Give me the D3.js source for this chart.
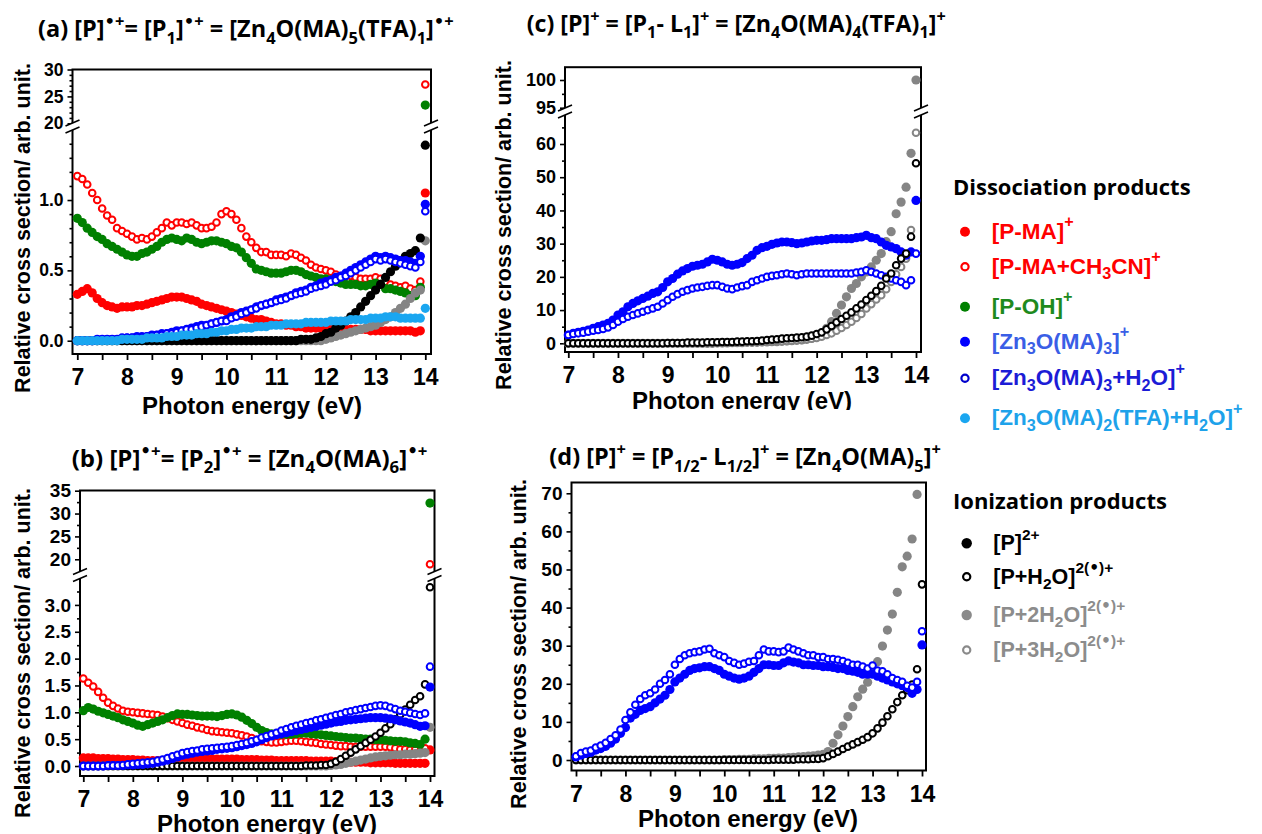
<!DOCTYPE html>
<html><head><meta charset="utf-8">
<script src="https://cdn.jsdelivr.net/npm/d3@7"></script>
<style>body{margin:0;background:#fff} text{white-space:pre}</style>
</head><body><svg id="c" width="1262" height="834" xmlns="http://www.w3.org/2000/svg"></svg>
<script>
// ---------------- data ----------------
const energy = [7.0,7.1,7.2,7.3,7.4,7.5,7.6,7.7,7.8,7.9,8.0,8.1,8.2,8.3,8.4,8.5,8.6,8.7,8.8,8.9,9.0,9.1,9.2,9.3,9.4,9.5,9.6,9.7,9.8,9.9,10.0,10.1,10.2,10.3,10.4,10.5,10.6,10.7,10.8,10.9,11.0,11.1,11.2,11.3,11.4,11.5,11.6,11.7,11.8,11.9,12.0,12.1,12.2,12.3,12.4,12.5,12.6,12.7,12.8,12.9,13.0,13.1,13.2,13.3,13.4,13.5,13.6,13.7,13.8,13.9,14.0];
const xTickLabels = [7,8,9,10,11,12,13,14];
const xMinorTicks = [7.5,8.5,9.5,10.5,11.5,12.5,13.5];

// panel (a)
const a_PMA = [0.33,0.35,0.37,0.34,0.30,0.27,0.25,0.24,0.23,0.24,
 0.24,0.24,0.25,0.25,0.26,0.27,0.28,0.29,0.30,0.31,
 0.31,0.31,0.30,0.29,0.28,0.26,0.25,0.24,0.23,0.22,
 0.21,0.20,0.19,0.18,0.17,0.16,0.15,0.15,0.14,0.13,
 0.12,0.12,0.11,0.11,0.10,0.10,0.09,0.09,0.09,0.09,
 0.09,0.08,0.08,0.08,0.08,0.08,0.08,0.08,0.08,0.07,
 0.07,0.07,0.07,0.07,0.07,0.07,0.07,0.07,0.06,0.07,
 1.05];
const a_PMACN = [1.17,1.15,1.11,1.05,1.00,0.94,0.89,0.86,0.80,0.78,
 0.76,0.74,0.72,0.73,0.72,0.74,0.77,0.80,0.84,0.82,
 0.84,0.84,0.83,0.84,0.82,0.80,0.80,0.81,0.84,0.90,
 0.92,0.90,0.86,0.80,0.74,0.70,0.66,0.63,0.63,0.61,
 0.61,0.61,0.60,0.62,0.61,0.59,0.57,0.54,0.52,0.51,
 0.50,0.49,0.47,0.46,0.46,0.46,0.45,0.44,0.44,0.44,
 0.45,0.44,0.42,0.40,0.39,0.38,0.39,0.37,0.36,0.42,
 27.2];
const a_POH = [0.87,0.84,0.80,0.77,0.74,0.72,0.69,0.67,0.65,0.63,
 0.61,0.60,0.60,0.62,0.63,0.65,0.67,0.70,0.72,0.73,
 0.72,0.71,0.73,0.72,0.70,0.69,0.70,0.71,0.71,0.70,
 0.69,0.67,0.66,0.63,0.59,0.55,0.51,0.50,0.49,0.48,
 0.48,0.48,0.49,0.50,0.50,0.49,0.47,0.46,0.45,0.44,
 0.44,0.43,0.42,0.41,0.40,0.40,0.40,0.39,0.39,0.40,
 0.41,0.40,0.37,0.37,0.36,0.35,0.34,0.32,0.32,0.38,
 23.4];
const a_ZnMA3 = [0.00,0.00,0.00,0.00,0.01,0.01,0.01,0.01,0.01,0.02,
 0.02,0.02,0.03,0.03,0.03,0.04,0.04,0.05,0.05,0.06,
 0.07,0.07,0.08,0.09,0.10,0.11,0.11,0.12,0.13,0.14,
 0.15,0.17,0.18,0.20,0.21,0.22,0.24,0.25,0.26,0.27,
 0.29,0.30,0.31,0.32,0.34,0.35,0.36,0.38,0.39,0.41,
 0.42,0.43,0.45,0.46,0.48,0.50,0.52,0.54,0.56,0.58,
 0.60,0.59,0.60,0.59,0.58,0.57,0.57,0.56,0.55,0.60,
 0.97];
const a_ZnMA3H2O = [0.00,0.00,0.00,0.00,0.00,0.00,0.01,0.01,0.01,0.01,
 0.02,0.02,0.02,0.02,0.03,0.03,0.04,0.04,0.05,0.05,
 0.06,0.07,0.08,0.08,0.09,0.10,0.11,0.12,0.13,0.14,
 0.14,0.16,0.17,0.19,0.20,0.22,0.23,0.25,0.26,0.27,
 0.28,0.29,0.30,0.32,0.33,0.34,0.35,0.37,0.38,0.39,
 0.40,0.42,0.43,0.45,0.46,0.48,0.50,0.52,0.54,0.56,
 0.58,0.57,0.58,0.57,0.56,0.55,0.54,0.53,0.52,0.56,
 0.92];
const a_ZnTFA = [0.00,0.00,0.00,0.00,0.00,0.00,0.00,0.00,0.00,0.01,
 0.01,0.01,0.01,0.01,0.02,0.02,0.02,0.02,0.03,0.03,
 0.03,0.04,0.04,0.04,0.05,0.05,0.05,0.06,0.06,0.07,
 0.07,0.08,0.08,0.09,0.09,0.09,0.10,0.10,0.10,0.11,
 0.11,0.11,0.12,0.12,0.12,0.12,0.13,0.13,0.13,0.13,
 0.13,0.14,0.14,0.14,0.14,0.15,0.15,0.15,0.15,0.16,
 0.16,0.16,0.17,0.17,0.17,0.16,0.16,0.16,0.16,0.16,
 0.23];
const a_P2 = [0,0,0,0,0,0,0,0,0,0,
 0,0,0,0,0,0,0,0,0,0,
 0,0,0,0,0,0,0,0,0,0,
 0,0,0,0,0,0,0,0,0,0,
 0,0,0,0,0,0.01,0.01,0.01,0.02,0.03,
 0.05,0.06,0.09,0.11,0.14,0.17,0.20,0.24,0.28,0.32,
 0.36,0.40,0.45,0.49,0.53,0.57,0.60,0.62,0.64,0.73,
 1.39];
const a_P2H2O2 = [0,0,0,0,0,0,0,0,0,0,
 0,0,0,0,0,0,0,0,0,0,
 0,0,0,0,0,0,0,0,0,0,
 0,0,0,0,0,0,0,0,0,0,
 0,0,0,0,0,0,0,0,0,0,
 0.01,0.02,0.03,0.04,0.05,0.06,0.07,0.08,0.09,0.10,
 0.11,0.13,0.15,0.17,0.20,0.23,0.26,0.30,0.34,0.36,
 0.71];

// panel (b)
const b_PMA = [0.15,0.15,0.15,0.14,0.14,0.14,0.13,0.13,0.12,0.12,
 0.12,0.11,0.11,0.10,0.10,0.10,0.10,0.10,0.11,0.11,
 0.11,0.12,0.12,0.13,0.13,0.13,0.13,0.13,0.13,0.13,
 0.13,0.13,0.12,0.12,0.12,0.12,0.11,0.11,0.11,0.10,
 0.10,0.10,0.10,0.10,0.10,0.10,0.09,0.09,0.09,0.09,
 0.09,0.08,0.08,0.08,0.07,0.07,0.07,0.07,0.06,0.06,
 0.06,0.06,0.06,0.05,0.05,0.05,0.05,0.05,0.05,0.05,
 0.30];
const b_PMACN = [1.63,1.55,1.48,1.38,1.27,1.18,1.12,1.07,1.03,1.01,
 1.00,0.99,0.98,0.97,0.96,0.95,0.92,0.89,0.86,0.83,
 0.80,0.77,0.75,0.72,0.70,0.67,0.65,0.64,0.63,0.62,
 0.61,0.59,0.57,0.55,0.52,0.49,0.46,0.45,0.44,0.44,
 0.45,0.46,0.47,0.47,0.46,0.45,0.44,0.43,0.41,0.40,
 0.39,0.38,0.37,0.37,0.36,0.36,0.36,0.36,0.36,0.36,
 0.36,0.36,0.35,0.33,0.31,0.31,0.30,0.30,0.27,0.33,
 18.9];
const b_POH = [1.03,1.09,1.06,1.02,0.99,0.96,0.93,0.90,0.86,0.83,
 0.80,0.76,0.74,0.77,0.80,0.83,0.86,0.90,0.94,0.97,
 0.96,0.96,0.95,0.94,0.93,0.93,0.93,0.92,0.94,0.96,
 0.97,0.95,0.91,0.85,0.79,0.72,0.66,0.62,0.60,0.59,
 0.59,0.59,0.59,0.60,0.61,0.61,0.60,0.59,0.58,0.57,
 0.56,0.55,0.54,0.53,0.52,0.52,0.51,0.50,0.50,0.49,
 0.49,0.48,0.47,0.46,0.46,0.45,0.43,0.42,0.40,0.50,
 32.3];
const b_ZnMA3 = [0.00,0.00,0.00,0.00,0.00,0.01,0.01,0.01,0.01,0.02,
 0.02,0.03,0.03,0.04,0.05,0.07,0.09,0.11,0.14,0.17,
 0.20,0.22,0.24,0.26,0.27,0.28,0.29,0.31,0.32,0.33,
 0.34,0.36,0.38,0.40,0.42,0.45,0.49,0.53,0.56,0.58,
 0.60,0.62,0.64,0.66,0.68,0.70,0.72,0.74,0.76,0.78,
 0.80,0.82,0.83,0.85,0.86,0.87,0.88,0.89,0.90,0.90,
 0.90,0.89,0.88,0.86,0.84,0.82,0.80,0.77,0.74,0.75,
 1.47];
const b_ZnMA3H2O = [0.00,0.00,0.00,0.00,0.00,0.01,0.01,0.01,0.02,0.03,
 0.04,0.05,0.06,0.07,0.08,0.10,0.12,0.15,0.18,0.21,
 0.24,0.26,0.28,0.29,0.31,0.32,0.33,0.34,0.35,0.36,
 0.37,0.39,0.41,0.43,0.46,0.49,0.53,0.56,0.59,0.62,
 0.66,0.69,0.72,0.75,0.77,0.80,0.82,0.85,0.87,0.90,
 0.92,0.95,0.97,1.00,1.02,1.04,1.06,1.08,1.10,1.12,
 1.13,1.12,1.09,1.06,1.03,1.01,0.99,0.97,0.95,0.98,
 1.85];
const b_P2H2O = [0,0,0,0,0,0,0,0,0,0,
 0,0,0,0,0,0,0,0,0,0,
 0,0,0,0,0,0,0,0,0,0,
 0,0,0,0,0,0,0,0,0,0,
 0,0,0,0,0,0.01,0.01,0.01,0.02,0.02,
 0.04,0.08,0.13,0.19,0.25,0.31,0.37,0.43,0.49,0.55,
 0.62,0.70,0.78,0.87,0.96,1.05,1.14,1.23,1.30,1.52,
 3.33];
const b_P2H2O2 = [0,0,0,0,0,0,0,0,0,0,
 0,0,0,0,0,0,0,0,0,0,
 0,0,0,0,0,0,0,0,0,0,
 0,0,0,0,0,0,0,0,0,0,
 0,0,0,0,0,0,0,0,0,0,
 0.01,0.02,0.03,0.05,0.07,0.09,0.11,0.13,0.15,0.17,
 0.18,0.19,0.20,0.21,0.21,0.22,0.22,0.23,0.24,0.25,
 0.72];

// panel (c)
const c_ZnMA3 = [2.5,3.0,3.3,3.6,4.0,4.5,5.0,5.5,6.0,7.0,
 8.5,9.5,11.0,12.0,12.8,13.5,14.2,15.0,15.5,16.8,
 18.5,19.5,20.8,21.8,22.5,23.2,23.5,23.8,24.5,25.3,
 25.0,24.5,23.8,23.5,23.8,24.3,25.5,26.5,28.0,28.8,
 29.2,29.8,30.2,30.5,30.5,30.3,30.0,30.2,30.5,30.8,
 31.0,31.0,31.2,31.5,31.5,31.5,31.5,31.5,31.8,32.0,
 32.5,31.8,31.5,30.5,29.5,29.0,28.5,27.5,26.5,27.5,
 43.0];
const c_ZnMA3H2O = [2.5,2.8,3.0,3.2,3.5,3.8,4.0,4.3,4.8,5.5,
 6.5,7.3,8.0,8.5,9.0,9.5,10.0,10.5,11.0,12.0,
 13.0,14.0,14.8,15.5,16.0,16.5,16.8,17.0,17.3,17.5,
 17.5,17.0,16.5,16.3,16.8,17.2,17.5,18.5,19.0,19.5,
 20.0,20.3,20.5,20.8,21.0,20.8,20.5,20.8,21.0,21.0,
 21.0,21.0,21.0,21.0,21.0,21.0,21.0,21.0,21.3,21.5,
 22.0,21.5,21.0,20.5,20.0,19.5,19.0,18.5,17.5,19.0,
 27.0];
const c_P2H2O = [0,0,0,0,0,0,0,0,0,0,
 0,0,0,0,0,0,0,0,0,0,
 0.1,0.1,0.1,0.1,0.2,0.2,0.2,0.2,0.3,0.3,
 0.3,0.4,0.4,0.4,0.5,0.5,0.6,0.6,0.7,0.8,
 1.0,1.1,1.2,1.4,1.5,1.6,1.7,1.8,2.0,2.3,
 2.8,3.3,4.2,5.2,6.3,7.3,8.3,9.3,10.5,11.7,
 13.0,14.3,15.7,17.3,19.5,21.0,23.5,25.5,27.0,32.1,
 54.2];
const c_P2H2O2 = [0,0,0,0,0,0,0,0,0,0,
 0,0,0,0,0,0,0,0,0,0,
 0,0,0,0,0,0,0,0,0,0,
 0.1,0.1,0.1,0.2,0.2,0.2,0.3,0.3,0.3,0.4,
 0.4,0.5,0.5,0.6,0.7,0.8,0.9,1.0,1.2,1.5,
 2.0,3.0,4.5,6.5,9.0,11.5,14.0,16.5,18.0,20.0,
 21.5,23.0,25.0,27.0,30.6,33.6,39.0,42.5,47.0,57.2,
 100];
const c_P2H2O3 = [0,0,0,0,0,0,0,0,0,0,
 0,0,0,0,0,0,0,0,0,0,
 0,0,0,0,0,0,0,0,0,0,
 0.1,0.1,0.2,0.2,0.2,0.3,0.3,0.3,0.4,0.4,
 0.5,0.5,0.6,0.6,0.7,0.8,0.9,1.0,1.2,1.4,
 1.6,2.0,2.5,3.0,3.8,4.6,5.5,6.5,7.6,8.8,
 10.5,11.8,13.2,14.5,16.3,18.5,20.8,23.0,25.5,34.1,
 63.4];

// panel (d)
const d_ZnMA3 = [0.8,1.3,1.7,2.0,2.6,3.0,3.6,4.4,5.5,7.0,
 8.5,11.0,12.0,13.0,13.5,14.0,15.0,16.0,17.0,18.5,
 20.5,21.5,22.5,23.5,24.0,24.2,24.5,24.5,24.0,23.5,
 22.5,22.0,21.5,21.2,21.5,22.0,23.0,24.0,25.0,25.0,
 24.8,24.8,25.5,26.0,25.7,25.5,25.0,25.0,24.8,24.8,
 24.5,24.5,24.3,24.0,24.0,23.5,23.3,23.0,22.5,22.5,
 22.5,22.0,21.5,21.0,20.5,20.0,19.5,19.0,17.5,18.5,
 30.2];
const d_ZnMA3H2O = [1.0,1.8,2.2,2.5,3.3,3.8,4.5,5.5,6.5,8.0,
 10.5,12.5,14.5,16.0,17.0,17.5,18.5,20.0,21.0,22.5,
 25.0,26.5,27.5,28.0,28.3,28.5,29.0,29.2,28.0,27.5,
 27.0,26.0,25.5,25.0,25.3,25.8,26.0,27.5,29.0,28.5,
 28.5,28.3,28.5,29.5,29.0,28.5,28.0,27.5,27.5,27.0,
 27.0,26.5,26.5,26.3,26.0,25.5,25.0,25.0,24.5,24.0,
 24.8,23.5,23.3,22.5,21.5,21.0,20.5,19.5,19.0,20.5,
 33.8];
const d_P2H2O = [0,0,0,0,0,0,0,0,0,0,
 0,0,0,0,0,0,0,0,0,0,
 0,0,0,0,0,0,0,0,0,0,
 0,0,0,0,0,0,0,0,0,0,
 0.1,0.1,0.1,0.1,0.1,0.2,0.2,0.2,0.3,0.3,
 0.5,1.0,1.6,2.2,2.9,3.5,4.1,4.7,5.3,6.0,
 7.0,8.3,9.8,11.5,13.3,15.2,17.0,18.3,19.8,23.8,
 46.1];
const d_P2H2O2 = [0,0,0,0,0,0,0,0,0,0,
 0,0,0,0,0,0,0,0,0,0,
 0,0,0,0,0,0,0,0,0,0,
 0.1,0.1,0.1,0.2,0.2,0.2,0.3,0.3,0.3,0.4,
 0.4,0.5,0.5,0.6,0.7,0.8,0.9,1.0,1.1,1.3,
 1.5,2.2,4.4,6.6,8.9,11.4,14.0,16.6,18.6,20.4,
 22.7,25.8,29.9,34.1,38.3,44.0,50.7,53.5,58.0,69.7,
 null];

// y tick labels
const aLowTicks = [0, 0.5, 1.0];
const aLowMinor = [0.1,0.2,0.3,0.4,0.6,0.7,0.8,0.9,1.1,1.2,1.3,1.4,1.5];
const aUpTicks = [20, 25, 30];
const aUpMinor = [21,22,23,24,26,27,28,29];
const bLowTicks = [0,0.5,1.0,1.5,2.0,2.5,3.0];
const bLowMinor = [0.25,0.75,1.25,1.75,2.25,2.75,3.25];
const bUpTicks = [20,25,30,35];
const bUpMinor = [22.5,27.5,32.5];
const cLowTicks = [0,10,20,30,40,50,60];
const cLowMinor = [5,15,25,35,45,55,65];
const cUpTicks = [95,100];
const cUpMinor = [97.5];
const dTicks = [0,10,20,30,40,50,60,70];
const dMinor = [5,15,25,35,45,55,65];

// texts
const panelTitles = [
 "(a) [P]^{•+}= [P_{1}]^{•+} = [Zn_{4}O(MA)_{5}(TFA)_{1}]^{•+}",
 "(b) [P]^{•+}= [P_{2}]^{•+} = [Zn_{4}O(MA)_{6}]^{•+}",
 "(c) [P]^{+} = [P_{1}- L_{1}]^{+} = [Zn_{4}O(MA)_{4}(TFA)_{1}]^{+}",
 "(d) [P]^{+} = [P_{1/2}- L_{1/2}]^{+} = [Zn_{4}O(MA)_{5}]^{+}"
];
const xTitle = "Photon energy (eV)";
const yTitle = "Relative cross section/ arb. unit.";
const legendHead1 = "Dissociation products";
const legendHead2 = "Ionization products";
const dissLabels = ["[P-MA]^{+}","[P-MA+CH_{3}CN]^{+}","[P-OH]^{+}","[Zn_{3}O(MA)_{3}]^{+}","[Zn_{3}O(MA)_{3}+H_{2}O]^{+}","[Zn_{3}O(MA)_{2}(TFA)+H_{2}O]^{+}"];
const ionLabels = ["[P]^{2+}","[P+H_{2}O]^{2(•)+}","[P+2H_{2}O]^{2(•)+}","[P+3H_{2}O]^{2(•)+}"];

// ---------------- styles ----------------
const COL = {red:"#ff0000", green:"#008000", blue:"#0000ff", lblue:"#1aa6f0", black:"#000000", grey:"#858585"};
const SANS = "'Liberation Sans', Arial, sans-serif";
const HUM = "'Open Sans', Lato, sans-serif";

const svg = d3.select("#c");
svg.append("rect").attr("width",1262).attr("height",834).attr("fill","#fff");

function rich(t, str, o={}){
  const sc = o.scale||0.7, sup = o.sup||0.42, sub = o.sub||0.25;
  const fs = parseFloat(t.attr("font-size"));
  const parts = str.split(/(\^\{[^}]*\}|_\{[^}]*\})/).filter(s=>s.length);
  let cur = 0;
  parts.forEach(p=>{
    let target = 0, txt = p, small = false;
    if (p.startsWith("^{")) { target = -sup*fs; txt = p.slice(2,-1); small = true; }
    else if (p.startsWith("_{")) { target = sub*fs; txt = p.slice(2,-1); small = true; }
    // split out bullets so they can use a font with a large bullet glyph
    const chunks = o.bigDot ? txt.split(/(•)/).filter(s=>s.length) : [txt];
    chunks.forEach((ch,k)=>{
      const ts = t.append("tspan").attr("dy", k===0 ? target-cur : 0).text(ch);
      if (small) ts.attr("font-size", fs*sc);
      if (ch === "•") ts.attr("font-family","'DejaVu Sans', sans-serif");
    });
    cur = target;
  });
}

const panels = [
 {frame:[72.5,431,69.5,354], xr:[77.3,425.3],
  low:{dom:[-0.0945,1.512], rng:[354,128], ticks:aLowTicks, minor:aLowMinor, fmt:d3.format(".1f")},
  up:{dom:[19.69,30], rng:[125,69.5], ticks:aUpTicks, minor:aUpMinor, fmt:d3.format("d")}, brk:126.5,
  title:[38,37], tfs:23.5, xt:[252,414], yt:[30,228], yfs:17.5,
  series:[{v:a_PMA,c:COL.red},{v:a_PMACN,c:COL.red,o:1},{v:a_POH,c:COL.green},{v:a_P2H2O2,c:COL.grey},{v:a_P2,c:COL.black},
          {v:a_ZnMA3,c:COL.blue},{v:a_ZnMA3H2O,c:COL.blue,o:1},{v:a_ZnTFA,c:COL.lblue}]},
 {frame:[80,434.5,490.5,776], xr:[83.3,430],
  low:{dom:[-0.186,3.52], rng:[776,577], ticks:bLowTicks, minor:bLowMinor, fmt:d3.format(".1f")},
  up:{dom:[17.0,35.04], rng:[573,490.5], ticks:bUpTicks, minor:bUpMinor, fmt:d3.format("d")}, brk:575,
  title:[71.7,466.7], tfs:24, xt:[267,832], yt:[30,653], yfs:19,
  series:[{v:b_PMA,c:COL.red},{v:b_PMACN,c:COL.red,o:1},{v:b_POH,c:COL.green},{v:b_P2H2O2,c:COL.grey},{v:b_P2H2O,c:COL.black,o:1},
          {v:b_ZnMA3,c:COL.blue},{v:b_ZnMA3H2O,c:COL.blue,o:1}]},
 {frame:[565,921,67.2,352], xr:[568.3,916],
  low:{dom:[-2.62,69.33], rng:[352,113], ticks:cLowTicks, minor:cLowMinor, fmt:d3.format("d")},
  up:{dom:[94.585,102.31], rng:[110,67.2], ticks:cUpTicks, minor:cUpMinor, fmt:d3.format("d")}, brk:111.5,
  title:[526.7,31.7], tfs:23.2, xt:[742,409], yt:[511,225], yfs:18, clipX:410,
  series:[{v:c_P2H2O2,c:COL.grey},{v:c_P2H2O3,c:COL.grey,o:1},{v:c_ZnMA3,c:COL.blue},{v:c_ZnMA3H2O,c:COL.blue,o:1},{v:c_P2H2O,c:COL.black,o:1}]},
 {frame:[571.5,926,482.5,770.5], xr:[576,922],
  low:{dom:[-2.756,72.83], rng:[770.5,482.5], ticks:dTicks, minor:dMinor, fmt:d3.format("d")},
  up:null, brk:null,
  title:[549.3,465], tfs:23.5, xt:[748,827], yt:[526,644], yfs:19,
  series:[{v:d_P2H2O2,c:COL.grey},{v:d_P2H2O,c:COL.black,o:1},{v:d_ZnMA3,c:COL.blue},{v:d_ZnMA3H2O,c:COL.blue,o:1}]}
];

panels.forEach((P, pi)=>{
  const g = svg.append("g");
  const [x0,x1,y0,y1] = P.frame;
  const x = d3.scaleLinear().domain([7,14]).range(P.xr);
  const yl = d3.scaleLinear().domain(P.low.dom).range(P.low.rng);
  const yu = P.up ? d3.scaleLinear().domain(P.up.dom).range(P.up.rng) : null;
  const yv = v => (yu && v > P.low.dom[1]) ? yu(v) : yl(v);

  const xa = g.append("g").attr("transform",`translate(0,${y1})`)
    .call(d3.axisBottom(x).tickValues(xTickLabels).tickSize(6).tickPadding(8.7).tickFormat(d3.format("d")));
  const xm = g.append("g").attr("transform",`translate(0,${y1})`)
    .call(d3.axisBottom(x).tickValues(xMinorTicks).tickSize(6).tickFormat(""));
  [xa,xm].forEach(s=>{s.select(".domain").remove(); s.selectAll("line").attr("stroke","#000").attr("stroke-width",1.8);});
  xa.selectAll("text").attr("font-family",SANS).attr("font-weight","bold").attr("font-size",23).attr("fill","#000");

  function yAxis(scale, cfg){
    const a = g.append("g").attr("transform",`translate(${x0},0)`)
      .call(d3.axisLeft(scale).tickValues(cfg.ticks).tickSize(5).tickPadding(4).tickFormat(cfg.fmt));
    const m = g.append("g").attr("transform",`translate(${x0},0)`)
      .call(d3.axisLeft(scale).tickValues(cfg.minor).tickSize(3).tickFormat(""));
    [a,m].forEach(s=>{s.select(".domain").remove(); s.selectAll("line").attr("stroke","#000").attr("stroke-width",1.6);});
    a.selectAll("text").attr("font-family",SANS).attr("font-weight","bold").attr("font-size",P.yfs).attr("fill","#000");
  }
  yAxis(yl, P.low);
  if (yu) yAxis(yu, P.up);

  g.append("rect").attr("x",x0).attr("y",y0).attr("width",x1-x0).attr("height",y1-y0)
    .attr("fill","none").attr("stroke","#000").attr("stroke-width",2);

  P.series.forEach(s=>{
    const pts = energy.map((e,i)=>({e, v:s.v[i]})).filter(d=>d.v!=null);
    g.append("g").selectAll("circle").data(pts).join("circle")
      .attr("cx", d=>x(d.e)).attr("cy", d=>yv(d.v))
      .attr("r", s.o ? 3.3 : 4.6)
      .attr("fill", s.o ? "#fff" : s.c)
      .attr("stroke", s.o ? s.c : "none")
      .attr("stroke-width", s.o ? 2.0 : 0);
  });

  if (P.brk){
    [x0,x1].forEach(bx=>{
      const b = P.brk;
      g.append("polygon").attr("points",`${bx-7},${b-0.5} ${bx+7},${b-6.5} ${bx+7},${b+0.5} ${bx-7},${b+6.5}`).attr("fill","#fff");
      g.append("line").attr("x1",bx-7).attr("y1",b-0.5).attr("x2",bx+7).attr("y2",b-6.5).attr("stroke","#000").attr("stroke-width",1.6);
      g.append("line").attr("x1",bx-7).attr("y1",b+6.5).attr("x2",bx+7).attr("y2",b+0.5).attr("stroke","#000").attr("stroke-width",1.6);
    });
  }

  const tt = g.append("text").attr("x",P.title[0]).attr("y",P.title[1])
    .attr("font-family",HUM).attr("font-weight","bold").attr("font-size",P.tfs).attr("fill","#000");
  rich(tt, panelTitles[pi], {scale:0.7, sup:0.42, sub:0.28, bigDot:true});

  let xtg = g;
  if (P.clipX){
    svg.append("clipPath").attr("id","clipc").append("rect").attr("x",0).attr("y",0).attr("width",1262).attr("height",P.clipX);
    xtg = g.append("g").attr("clip-path","url(#clipc)");
  }
  xtg.append("text").attr("x",P.xt[0]).attr("y",P.xt[1]).attr("text-anchor","middle")
    .attr("font-family",SANS).attr("font-weight","bold").attr("font-size",24).attr("fill","#000").text(xTitle);
  g.append("text").attr("transform",`translate(${P.yt[0]},${P.yt[1]}) rotate(-90)`).attr("text-anchor","middle")
    .attr("font-family",SANS).attr("font-weight","bold").attr("font-size",21.5).attr("fill","#000").text(yTitle);
});

// ---------------- legend ----------------
const lg = svg.append("g");
lg.append("text").attr("x",953).attr("y",195).attr("font-family",HUM).attr("font-weight","bold").attr("font-size",22).attr("fill","#000").text(legendHead1);
const dissMarks = [{c:COL.red},{c:COL.red,o:1},{c:COL.green},{c:COL.blue},{c:"#0000cc",o:1},{c:COL.lblue}];
const dissText = ["#ff0000","#ff0000","#1e8a1e","#3a5ee6","#1c1cd6","#1ea2ea"];
const dissY = [231.7,266.7,306.7,341.7,378.3,418.3];
dissLabels.forEach((lab,i)=>{
  const m = dissMarks[i], yy = dissY[i];
  lg.append("circle").attr("cx",965).attr("cy",yy).attr("r", m.o?3.6:5)
    .attr("fill", m.o?"#fff":m.c).attr("stroke", m.o?m.c:"none").attr("stroke-width", m.o?2.2:0);
  const t = lg.append("text").attr("x",991.7).attr("y",yy+7).attr("font-family",SANS).attr("font-weight","bold")
    .attr("font-size",22.5).attr("fill",dissText[i]);
  rich(t, lab, {scale:0.72, sup:0.5, sub:0.25});
});
lg.append("text").attr("x",953).attr("y",509).attr("font-family",HUM).attr("font-weight","bold").attr("font-size",22).attr("fill","#000").text(legendHead2);
const ionMarks = [{c:"#000"},{c:"#000",o:1},{c:"#8a8a8a"},{c:"#8a8a8a",o:1}];
const ionText = ["#000","#000","#8c8c8c","#8c8c8c"];
const ionY = [543.3,576.7,615,650];
ionLabels.forEach((lab,i)=>{
  const m = ionMarks[i], yy = ionY[i];
  lg.append("circle").attr("cx",966.7).attr("cy",yy).attr("r", m.o?3.6:5.2)
    .attr("fill", m.o?"#fff":m.c).attr("stroke", m.o?m.c:"none").attr("stroke-width", m.o?2.2:0);
  const t = lg.append("text").attr("x",993.3).attr("y",yy+7).attr("font-family",SANS).attr("font-weight","bold")
    .attr("font-size",21.5).attr("fill",ionText[i]);
  rich(t, lab, {scale:0.72, sup:0.5, sub:0.25, bigDot:true});
});
</script>
</body></html>
